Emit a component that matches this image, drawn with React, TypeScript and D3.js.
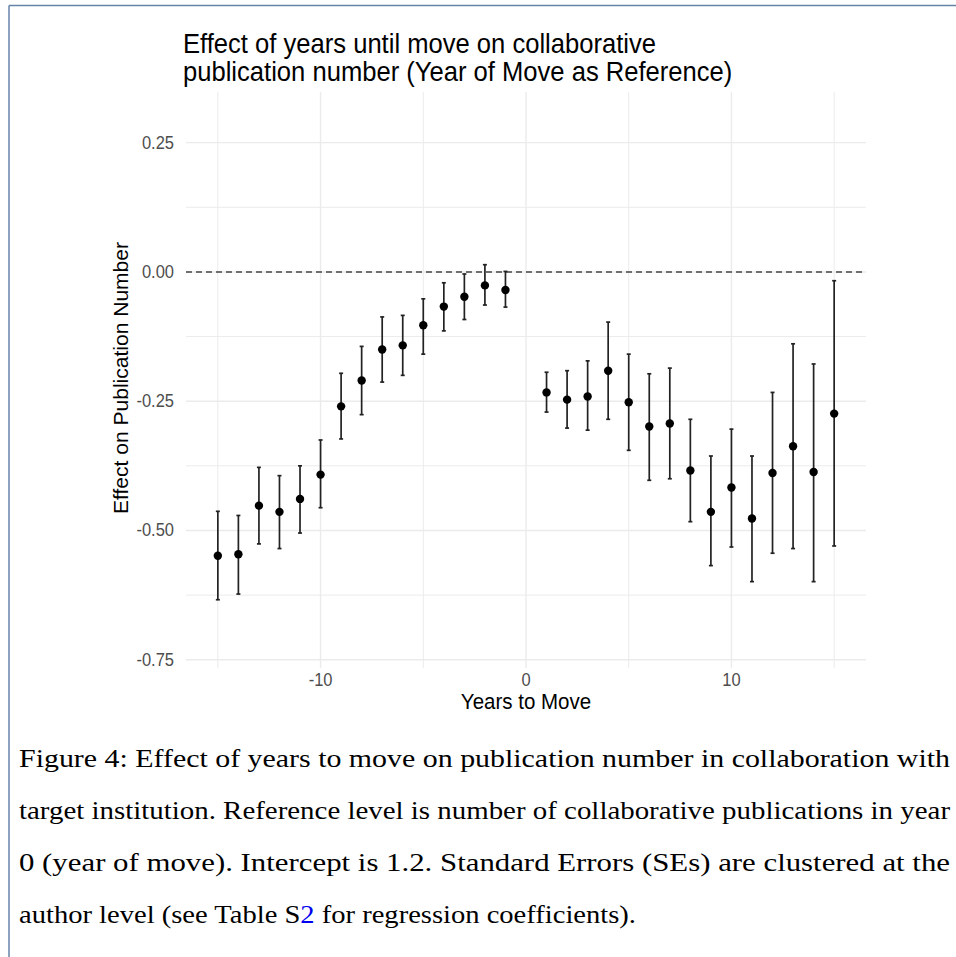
import React from "react";
import * as d3 from "d3";

const years = [-15, -14, -13, -12, -11, -10, -9, -8, -7, -6, -5, -4, -3, -2, -1, 1, 2, 3, 4, 5, 6, 7, 8, 9, 10, 11, 12, 13, 14, 15];
const estimates = [-0.549, -0.546, -0.452, -0.464, -0.439, -0.392, -0.26, -0.21, -0.15, -0.142, -0.103, -0.067, -0.048, -0.026, -0.035, -0.233, -0.247, -0.241, -0.191, -0.252, -0.299, -0.293, -0.384, -0.464, -0.417, -0.477, -0.389, -0.337, -0.387, -0.274];
const upper = [-0.463, -0.471, -0.378, -0.394, -0.375, -0.325, -0.196, -0.144, -0.087, -0.084, -0.052, -0.021, -0.004, 0.014, 0.001, -0.194, -0.191, -0.172, -0.097, -0.159, -0.197, -0.186, -0.285, -0.356, -0.304, -0.356, -0.233, -0.139, -0.178, -0.017];
const lower = [-0.634, -0.623, -0.526, -0.535, -0.505, -0.456, -0.323, -0.276, -0.213, -0.2, -0.159, -0.114, -0.092, -0.064, -0.068, -0.271, -0.302, -0.306, -0.285, -0.345, -0.403, -0.4, -0.483, -0.568, -0.532, -0.599, -0.544, -0.535, -0.599, -0.53];

const yMajor = [0.25, 0, -0.25, -0.5, -0.75];
const yMinor = [0.125, -0.125, -0.375, -0.625];
const xMajor = [-10, 0, 10];
const xMinor = [-15, -5, 5, 15];

const titleLines = ["Effect of years until move on collaborative", "publication number (Year of Move as Reference)"];
const xTitle = "Years to Move";
const yTitle = "Effect on Publication Number";
const captionLines = [
  "Figure 4: Effect of years to move on publication number in collaboration with",
  "target institution. Reference level is number of collaborative publications in year",
  "0 (year of move). Intercept is 1.2. Standard Errors (SEs) are clustered at the",
];

export default function App() {
  const W = 956, H = 957;
  const x = d3.scaleLinear().domain([-16.55, 16.55]).range([186, 866]);
  const y = d3.scaleLinear().domain([-0.766, 0.348]).range([668, 92]);
  const fmt = (v: number) => d3.format(".2f")(v).replace("\u2212", "-");
  const sans = "'Liberation Sans', Arial, sans-serif";
  const serif = "'Liberation Serif', 'Times New Roman', serif";
  const capW = 4;
  const vs = 1.08;
  return (
    <svg width={W} height={H} style={{ position: "absolute", left: 0, top: 0, background: "#fff" }}>
      <rect x={0} y={0} width={W} height={H} fill="#fff" />
      {/* page border */}
      <line x1={9} y1={5.5} x2={W} y2={5.5} stroke="#6683a8" strokeWidth={1.5} />
      <line x1={9} y1={5.5} x2={9} y2={H} stroke="#6683a8" strokeWidth={1.5} />

      {/* grid */}
      {yMinor.map((v) => (
        <line key={"ym" + v} x1={186} x2={866} y1={y(v)} y2={y(v)} stroke="#ebebeb" strokeWidth={1} />
      ))}
      {xMinor.map((v) => (
        <line key={"xm" + v} y1={92} y2={668} x1={x(v)} x2={x(v)} stroke="#ebebeb" strokeWidth={1} />
      ))}
      {yMajor.map((v) => (
        <line key={"yM" + v} x1={186} x2={866} y1={y(v)} y2={y(v)} stroke="#ebebeb" strokeWidth={1.4} />
      ))}
      {xMajor.map((v) => (
        <line key={"xM" + v} y1={92} y2={668} x1={x(v)} x2={x(v)} stroke="#ebebeb" strokeWidth={1.4} />
      ))}

      {/* reference line */}
      <line x1={186} x2={866} y1={y(0)} y2={y(0)} stroke="#444" strokeWidth={1.5} strokeDasharray="6,4" />

      {/* error bars */}
      {years.map((yr, i) => (
        <g key={"e" + yr} stroke="#222" strokeWidth={1.7}>
          <line x1={x(yr)} x2={x(yr)} y1={y(upper[i])} y2={y(lower[i])} />
          <line x1={x(yr) - capW / 2} x2={x(yr) + capW / 2} y1={y(upper[i])} y2={y(upper[i])} />
          <line x1={x(yr) - capW / 2} x2={x(yr) + capW / 2} y1={y(lower[i])} y2={y(lower[i])} />
        </g>
      ))}
      {years.map((yr, i) => (
        <circle key={"p" + yr} cx={x(yr)} cy={y(estimates[i])} r={4.2} fill="#000" />
      ))}

      {/* y tick labels */}
      {yMajor.map((v) => (
        <text key={"yl" + v} transform={`translate(174,${y(v) + 6}) scale(1,${vs})`} textAnchor="end" fontFamily={sans} fontSize={16.5} fill="#4d4d4d">
          {fmt(v)}
        </text>
      ))}
      {/* x tick labels */}
      {xMajor.map((v) => (
        <text key={"xl" + v} transform={`translate(${x(v)},686) scale(1,${vs})`} textAnchor="middle" fontFamily={sans} fontSize={16.5} fill="#4d4d4d">
          {String(v)}
        </text>
      ))}

      {/* axis titles */}
      <text transform={`translate(${x(0)},709) scale(1,${vs})`} textAnchor="middle" fontFamily={sans} fontSize={20.5} fill="#000">
        {xTitle}
      </text>
      <text transform={`translate(128,${(92 + 668) / 2 - 2}) rotate(-90)`} textAnchor="middle" fontFamily={sans} fontSize={20.5} fill="#000" textLength={272} lengthAdjust="spacingAndGlyphs">
        {yTitle}
      </text>

      {/* title */}
      {titleLines.map((t, i) => (
        <text key={"t" + i} transform={`translate(183,${53 + i * 28}) scale(1,${vs})`} fontFamily={sans} fontSize={25.6} fill="#000">
          {t}
        </text>
      ))}

      {/* caption */}
      {captionLines.map((t, i) => (
        <text key={"c" + i} x={19} y={767 + i * 52} fontFamily={serif} fontSize={25} fill="#000" textLength={931} lengthAdjust="spacingAndGlyphs">
          {t}
        </text>
      ))}
      <text x={19} y={767 + 3 * 52} fontFamily={serif} fontSize={25} fill="#000" textLength={617} lengthAdjust="spacingAndGlyphs">
        author level (see Table S<tspan fill="#0000ee">2</tspan> for regression coefficients).
      </text>
    </svg>
  );
}
